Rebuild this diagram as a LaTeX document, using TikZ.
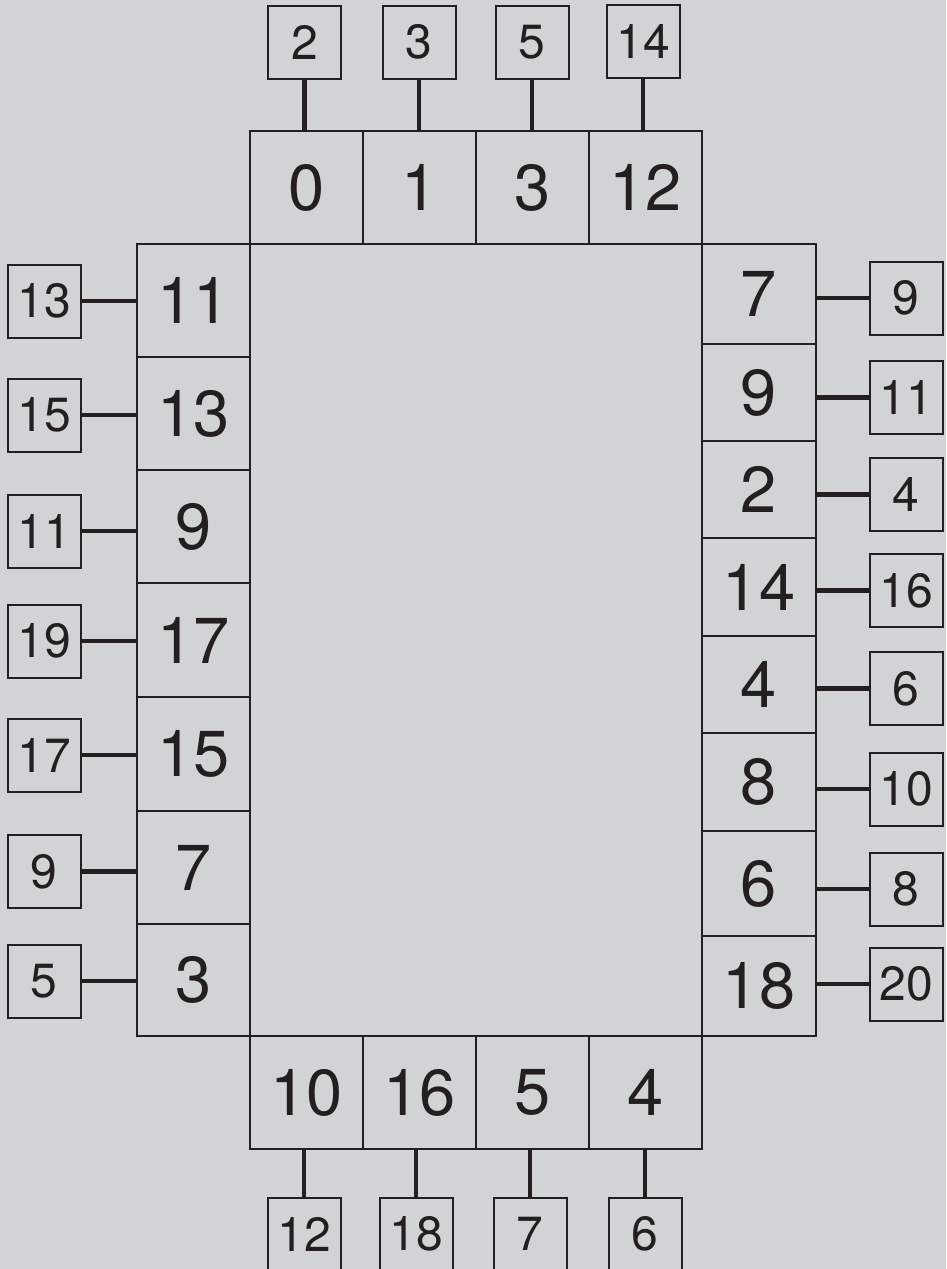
\documentclass[tikz,border=0pt]{standalone}
\usepackage{fontspec}
\setmainfont{TeX Gyre Heros}
\definecolor{bgc}{HTML}{D1D3D4}
\definecolor{ink}{HTML}{231F20}
\begin{document}
\begin{tikzpicture}[x=1pt,y=-1pt,
  cellbox/.style={draw=ink,line width=2pt,inner sep=0pt,text=ink,
    font=\fontsize{65}{65}\selectfont},
  hcell/.style={cellbox,minimum width=113pt,minimum height=113pt},
  lcell/.style={cellbox,minimum width=113pt,minimum height=#1},
  rcell/.style={cellbox,minimum width=114pt,minimum height=#1},
  pinbox/.style={draw=ink,line width=2pt,inner sep=0pt,minimum size=73pt,
    text=ink,font=\fontsize{48}{48}\selectfont},
  wire/.style={draw=ink,line width=4.5pt}]
\useasboundingbox (0,0) rectangle (946,1269);
\fill[bgc] (0,0) rectangle (946,1269);
\clip (0,0) rectangle (946,1269);

% top row cells
\node[hcell] (t1) at (306.5,187.5) {0};
\node[hcell] (t2) at (419.5,187.5) {1};
\node[hcell] (t3) at (532.5,187.5) {3};
\node[hcell] (t4) at (645.5,187.5) {12};
% bottom row cells
\node[hcell] (b1) at (306.5,1092.5) {10};
\node[hcell] (b2) at (419.5,1092.5) {16};
\node[hcell] (b3) at (532.5,1092.5) {5};
\node[hcell] (b4) at (645.5,1092.5) {4};
% left column cells
\node[lcell=113pt] (l1) at (193.5,300.5) {11};
\node[lcell=113pt] (l2) at (193.5,413.5) {13};
\node[lcell=113pt] (l3) at (193.5,526.5) {9};
\node[lcell=114pt] (l4) at (193.5,640) {17};
\node[lcell=114pt] (l5) at (193.5,754) {15};
\node[lcell=113pt] (l6) at (193.5,867.5) {7};
\node[lcell=112pt] (l7) at (193.5,980) {3};
% right column cells
\node[rcell=100pt] (r1) at (759,294) {7};
\node[rcell=97pt] (r2) at (759,392.5) {9};
\node[rcell=97pt] (r3) at (759,489.5) {2};
\node[rcell=98pt] (r4) at (759,587) {14};
\node[rcell=97pt] (r5) at (759,684.5) {4};
\node[rcell=98pt] (r6) at (759,782) {8};
\node[rcell=105pt] (r7) at (759,883.5) {6};
\node[rcell=100pt] (r8) at (759,986) {18};

% top pins
\node[pinbox] (tp1) at (304.5,42) {2};
\node[pinbox] (tp2) at (419,42) {3};
\node[pinbox] (tp3) at (532,42) {5};
\node[pinbox] (tp4) at (643,41) {14};
% bottom pins
\node[pinbox] (bp1) at (304,1234) {12};
\node[pinbox] (bp2) at (416,1234) {18};
\node[pinbox] (bp3) at (530,1234) {7};
\node[pinbox] (bp4) at (645,1234) {6};
% left pins
\node[pinbox] (lp1) at (44,301) {13};
\node[pinbox] (lp2) at (44,415) {15};
\node[pinbox] (lp3) at (44,531) {11};
\node[pinbox] (lp4) at (44,641) {19};
\node[pinbox] (lp5) at (44,755) {17};
\node[pinbox] (lp6) at (44,871.5) {9};
\node[pinbox] (lp7) at (44,981) {5};
% right pins
\node[pinbox] (rp1) at (906,298) {9};
\node[pinbox] (rp2) at (906,397.5) {11};
\node[pinbox] (rp3) at (906,494.5) {4};
\node[pinbox] (rp4) at (906,590.5) {16};
\node[pinbox] (rp5) at (906,688.5) {6};
\node[pinbox] (rp6) at (906,789) {10};
\node[pinbox] (rp7) at (906,889) {8};
\node[pinbox] (rp8) at (906,984) {20};

% connectors
\foreach \i in {1,...,4}{
  \draw[wire] (tp\i.south) -- (tp\i.south |- t\i.north);
  \draw[wire] (bp\i.north) -- (bp\i.north |- b\i.south);
}
\foreach \i in {1,...,7}{
  \draw[wire] (lp\i.east) -- (lp\i.east -| l\i.west);
}
\foreach \i in {1,...,8}{
  \draw[wire] (rp\i.west) -- (rp\i.west -| r\i.east);
}
\end{tikzpicture}
\end{document}
